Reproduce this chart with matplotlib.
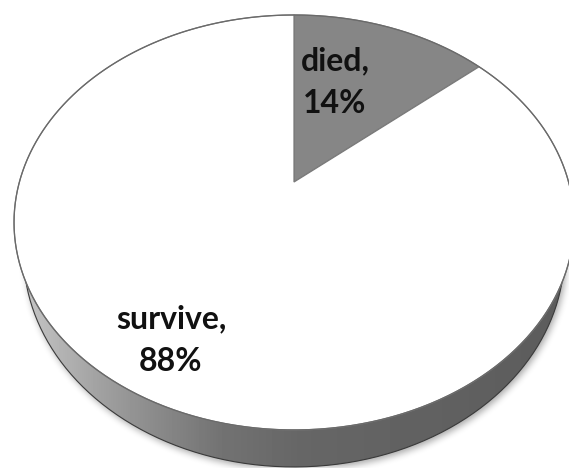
import numpy as np
import matplotlib
matplotlib.use("Agg")
import matplotlib.pyplot as plt
from matplotlib.patches import Polygon
from matplotlib.path import Path

# Pie data
labels = ["died", "survive"]
percents = [14, 88]
top_colors = ["#868686", "#ffffff"]

# Label anchors (centre x, baseline y of first line) in pixel coordinates
label_pos = [(335, 70), (171, 328)]

# Perspective disk geometry (pixels)
W, H = 569, 468
X0, E = 294.0, 182.0            # projected centre of the pie top
G, D, A = 0.195, -164.1, 274.6  # perspective terms
T = 29.8                        # thickness of the pie
S = 0.966                       # horizontal shrink of the bottom rim


def project(theta, depth=0.0):
    u, v = np.cos(theta), np.sin(theta)
    w = 1 + G * v
    scale = S if depth else 1.0
    return X0 + scale * A * u / w, (D * v + E + depth) / w


fig = plt.figure(figsize=(W / 100, H / 100), dpi=100)
ax = fig.add_axes([0, 0, 1, 1])
ax.set_xlim(0, W)
ax.set_ylim(H, 0)
ax.axis("off")

# soft drop shadow under the pie body
gx, gy = np.meshgrid(np.arange(W) + 0.5, np.arange(H) + 0.5)
t = np.linspace(0, 2 * np.pi, 400)
bx, by = project(t, T)
mask = Path(np.column_stack([bx + 2, by + 3])).contains_points(
    np.column_stack([gx.ravel(), gy.ravel()])).reshape(H, W).astype(float)
k = np.ones(7) / 7
for _ in range(3):
    mask = np.apply_along_axis(lambda r: np.convolve(r, k, mode="same"), 1, mask)
    mask = np.apply_along_axis(lambda c: np.convolve(c, k, mode="same"), 0, mask)
shadow = np.zeros((H, W, 4))
shadow[..., 3] = mask * 0.35
ax.imshow(shadow, extent=[0, W, H, 0], zorder=1, interpolation="bilinear")

# side wall of the pie with a left-to-right shading
tf = np.linspace(np.pi, 2 * np.pi, 300)
sx_top, sy_top = project(tf)
sx_bot, sy_bot = project(tf, T)
side = Polygon(np.column_stack([np.r_[sx_top, sx_bot[::-1]],
                                np.r_[sy_top, sy_bot[::-1]]]),
               closed=True, facecolor="none", edgecolor="none")
ax.add_patch(side)
xs = np.arange(W)
shade = np.interp(xs, [0, 30, 100, 150, 220, 300, 569],
                  [0.80, 0.76, 0.63, 0.55, 0.45, 0.40, 0.36])
grad = np.tile(shade, (H, 1))
im = ax.imshow(grad, cmap="gray", vmin=0, vmax=1, extent=[0, W, H, 0],
               zorder=2, interpolation="bilinear")
im.set_clip_path(side)
ax.plot(sx_bot, sy_bot, color="#3a3a3a", lw=0.8, zorder=3)

# top surface slices, clockwise from 12 o'clock
fracs = np.array(percents, dtype=float) / sum(percents)
start = np.pi / 2
for frac, col in zip(fracs, top_colors):
    end = start - 2 * np.pi * frac
    th = np.linspace(start, end, 300)
    px, py = project(th)
    verts = np.column_stack([np.r_[X0, px], np.r_[E, py]])
    ax.add_patch(Polygon(verts, closed=True, facecolor=col,
                         edgecolor="#7a7a7a", lw=0.9, zorder=4))
    start = end

# outline of the top rim
tx, ty = project(t)
ax.plot(tx, ty, color="#6a6a6a", lw=0.9, zorder=5)

# slice labels
for lab, pct, (lx, ly) in zip(labels, percents, label_pos):
    ax.text(lx, ly, f"{lab},", ha="center", va="baseline", fontsize=23,
            fontweight="bold", family="Lato", color="#111111", zorder=6)
    ax.text(lx, ly + 43, f"{pct}%", ha="center", va="baseline", fontsize=23,
            fontweight="bold", family="Lato", color="#111111", zorder=6)

fig.savefig("out.png", dpi=100)
